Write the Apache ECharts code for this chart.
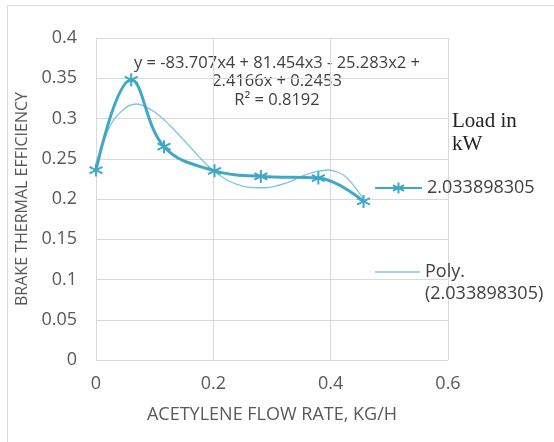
<!DOCTYPE html>
<html>
<head>
<meta charset="utf-8">
<script src="https://cdn.jsdelivr.net/npm/echarts@6/dist/echarts.min.js"></script>
<style>
  html, body { margin: 0; padding: 0; background: #fff; }
  #chart { width: 554px; height: 442px; }
</style>
</head>
<body>
<div id="chart"></div>
<script>
// measured points (acetylene flow rate kg/h -> brake thermal efficiency)
var flowRate = [0, 0.06, 0.116, 0.202, 0.281, 0.379, 0.456];
var efficiency = [0.236, 0.348, 0.265, 0.235, 0.228, 0.226, 0.197];

// poly trendline
var trendX = [0, 0.025, 0.05, 0.07, 0.1, 0.125, 0.15, 0.175, 0.2, 0.225, 0.25, 0.275, 0.29, 0.325, 0.35, 0.375, 0.396, 0.425, 0.456];
var trendY = [0.245, 0.292, 0.313, 0.318, 0.308, 0.292, 0.273, 0.253, 0.235, 0.223, 0.216, 0.214, 0.214, 0.220, 0.228, 0.234, 0.236, 0.228, 0.200];

var seriesName = '2.033898305';
var trendName = 'Poly. (2.033898305)';
var equationLines = ['y = -83.707x4 + 81.454x3 - 25.283x2 +', '2.4166x + 0.2453', 'R² = 0.8192'];

function pairs(xs, ys) {
  return xs.map(function (x, i) { return [x, ys[i]]; });
}

var lineColor = '#3fa8c6';
var trendColor = '#7ec6db';
var txt = '#595959';
var font = 'Open Sans';
var star = 'path://M0,-10L0,10M-8.66,-5L8.66,5M-8.66,5L8.66,-5';

var chart = echarts.init(document.getElementById('chart'));
chart.setOption({
  animation: false,
  textStyle: { fontFamily: font },
  graphic: [
    { type: 'rect', shape: { x: 7.5, y: 5.5, width: 560, height: 450 }, style: { fill: 'none', stroke: '#d9d9d9', lineWidth: 1 } },
    { type: 'text', x: 452, y: 110, style: { text: 'Load in\nkW', font: '21px "Liberation Serif"', fill: '#222', lineHeight: 23 } },
    { type: 'text', x: 277, y: 54, style: { text: equationLines.join('\n'), font: '16.5px "Open Sans"', fill: '#404040', align: 'center', lineHeight: 18.5 } }
  ],
  grid: { left: 96, right: 106, top: 38, bottom: 82 },
  legend: [
    {
      data: [seriesName], left: 374, top: 177, orient: 'vertical', padding: 0,
      itemWidth: 47, itemHeight: 14,
      textStyle: { fontSize: 18, color: '#404040', fontFamily: font, lineHeight: 22 }
    },
    {
      data: [{ name: trendName, icon: 'rect' }], left: 375, top: 239, orient: 'vertical', padding: 0,
      itemWidth: 45, itemHeight: 1.5,
      formatter: function () { return ' \nPoly.\n(2.033898305)'; },
      textStyle: { fontSize: 18, color: '#404040', fontFamily: font, lineHeight: 22 }
    }
  ],
  xAxis: {
    type: 'value', min: 0, max: 0.6, interval: 0.2,
    name: 'ACETYLENE FLOW RATE, KG/H', nameLocation: 'middle', nameGap: 46,
    nameTextStyle: { fontSize: 18, color: txt, fontFamily: font },
    axisLine: { show: false }, axisTick: { show: false },
    axisLabel: { fontSize: 18, color: txt, margin: 15, formatter: function (v) { return String(+v.toFixed(1)); } },
    splitLine: { show: true, lineStyle: { color: '#d9d9d9' } }
  },
  yAxis: {
    type: 'value', min: 0, max: 0.4, interval: 0.05,
    name: 'BRAKE THERMAL EFFICIENCY', nameLocation: 'middle', nameGap: 57,
    nameTextStyle: { fontSize: 16, color: txt, fontFamily: font },
    axisLine: { show: false }, axisTick: { show: false },
    axisLabel: { fontSize: 18, color: txt, margin: 19, formatter: function (v) { return String(+v.toFixed(2)); } },
    splitLine: { show: true, lineStyle: { color: '#d9d9d9' } }
  },
  series: [
    {
      name: trendName, type: 'line', smooth: 0.3, showSymbol: false, symbol: 'none',
      data: pairs(trendX, trendY),
      lineStyle: { color: trendColor, width: 1.3 },
      itemStyle: { color: trendColor },
      z: 2
    },
    {
      name: seriesName, type: 'line', smooth: 0.4,
      data: pairs(flowRate, efficiency),
      symbol: star, symbolSize: 13,
      lineStyle: { color: lineColor, width: 3 },
      itemStyle: { color: lineColor, borderColor: lineColor, borderWidth: 2 },
      z: 3
    }
  ]
});
</script>
</body>
</html>
